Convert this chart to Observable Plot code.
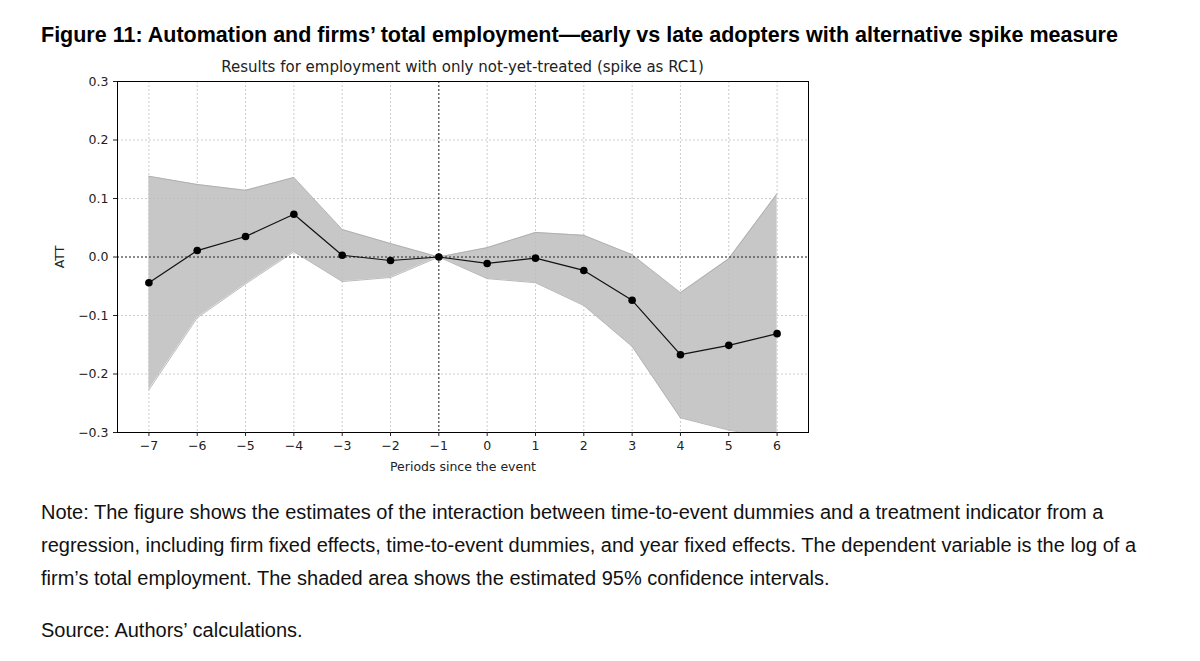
<!DOCTYPE html>
<html><head><meta charset="utf-8">
<script src="https://cdn.jsdelivr.net/npm/d3@7"></script>
<script src="https://cdn.jsdelivr.net/npm/@observablehq/plot@0.6"></script>
<style>
body{margin:0;background:#fff;font-family:"Liberation Sans",Arial,sans-serif;width:1200px;height:661px;position:relative;overflow:hidden}
#title{position:absolute;left:41px;top:23px;font-size:21.5px;font-weight:bold;color:#000;white-space:nowrap}
#sub{position:absolute;left:117px;width:691px;top:58px;text-align:center;font-family:"DejaVu Sans";font-size:15px;color:#222}
#chart{position:absolute;left:0;top:50px}
.note{position:absolute;left:41px;font-size:20px;line-height:33px;color:#111;width:1115px}
</style></head><body>
<div id="title">Figure 11: Automation and firms’ total employment—early vs late adopters with alternative spike measure</div>
<div id="sub">Results for employment with only not-yet-treated (spike as RC1)</div>
<div id="chart"></div>
<div class="note" style="top:496px">Note: The figure shows the estimates of the interaction between time-to-event dummies and a treatment indicator from a regression, including firm fixed effects, time-to-event dummies, and year fixed effects. The dependent variable is the log of a firm’s total employment. The shaded area shows the estimated 95% confidence intervals.</div>
<div class="note" style="top:614px">Source: Authors’ calculations.</div>
<script>
const periods = [-7,-6,-5,-4,-3,-2,-1,0,1,2,3,4,5,6];
const att =   [-0.044,0.011,0.035,0.073,0.003,-0.006,0,-0.011,-0.002,-0.023,-0.074,-0.167,-0.151,-0.131];
const upper = [0.138,0.124,0.114,0.136,0.047,0.023,0,0.016,0.042,0.037,0.004,-0.061,-0.003,0.108];
const lower = [-0.227,-0.104,-0.046,0.009,-0.042,-0.035,0,-0.037,-0.044,-0.083,-0.153,-0.275,-0.296,-0.31];
const yTicks = [-0.3,-0.2,-0.1,0,0.1,0.2,0.3];
const data = periods.map((p,i)=>({p,att:att[i],hi:upper[i],lo:lower[i]}));
const fmt = v => (v<0?"\u2212":"")+Math.abs(v).toFixed(1);
const xf = d=>d<0?"\u2212"+(-d):String(d);
const chart = Plot.plot({
  width:830,height:430,marginLeft:117,marginRight:22,marginTop:31,marginBottom:48,
  style:{fontFamily:"DejaVu Sans",fontSize:"12px",color:"#222",background:"transparent"},
  x:{domain:[-7.65,6.65]},
  y:{domain:[-0.3,0.3]},
  marks:[
    Plot.gridX(periods,{stroke:"#ccc",strokeDasharray:"2,2",strokeOpacity:1}),
    Plot.gridY(yTicks,{stroke:"#ccc",strokeDasharray:"2,2",strokeOpacity:1}),
    Plot.areaY(data,{x:"p",y1:"lo",y2:"hi",fill:"#bdbdbd",fillOpacity:0.85,clip:true}),
    Plot.line(data,{x:"p",y:"hi",stroke:"#aaa",strokeWidth:0.8,clip:true}),
    Plot.line(data,{x:"p",y:"lo",stroke:"#aaa",strokeWidth:0.8,clip:true}),
    Plot.ruleY([0],{stroke:"#000",strokeDasharray:"2,2",strokeWidth:0.8}),
    Plot.ruleX([-1],{stroke:"#000",strokeDasharray:"2,2",strokeWidth:0.8}),
    Plot.line(data,{x:"p",y:"att",stroke:"#111",strokeWidth:1.2}),
    Plot.dot(data,{x:"p",y:"att",fill:"#000",r:3.8}),
    Plot.frame({stroke:"#000"}),
    Plot.axisX({ticks:periods,tickFormat:xf,label:"Periods since the event",labelAnchor:"center",labelArrow:"none",labelOffset:38,fontSize:12.5,tickSize:4}),
    Plot.axisY({ticks:yTicks,tickFormat:fmt,label:"ATT",labelAnchor:"center",labelArrow:"none",labelOffset:62,fontSize:12.5,tickSize:4})
  ]
});
document.getElementById("chart").appendChild(chart);
</script>
</body></html>
